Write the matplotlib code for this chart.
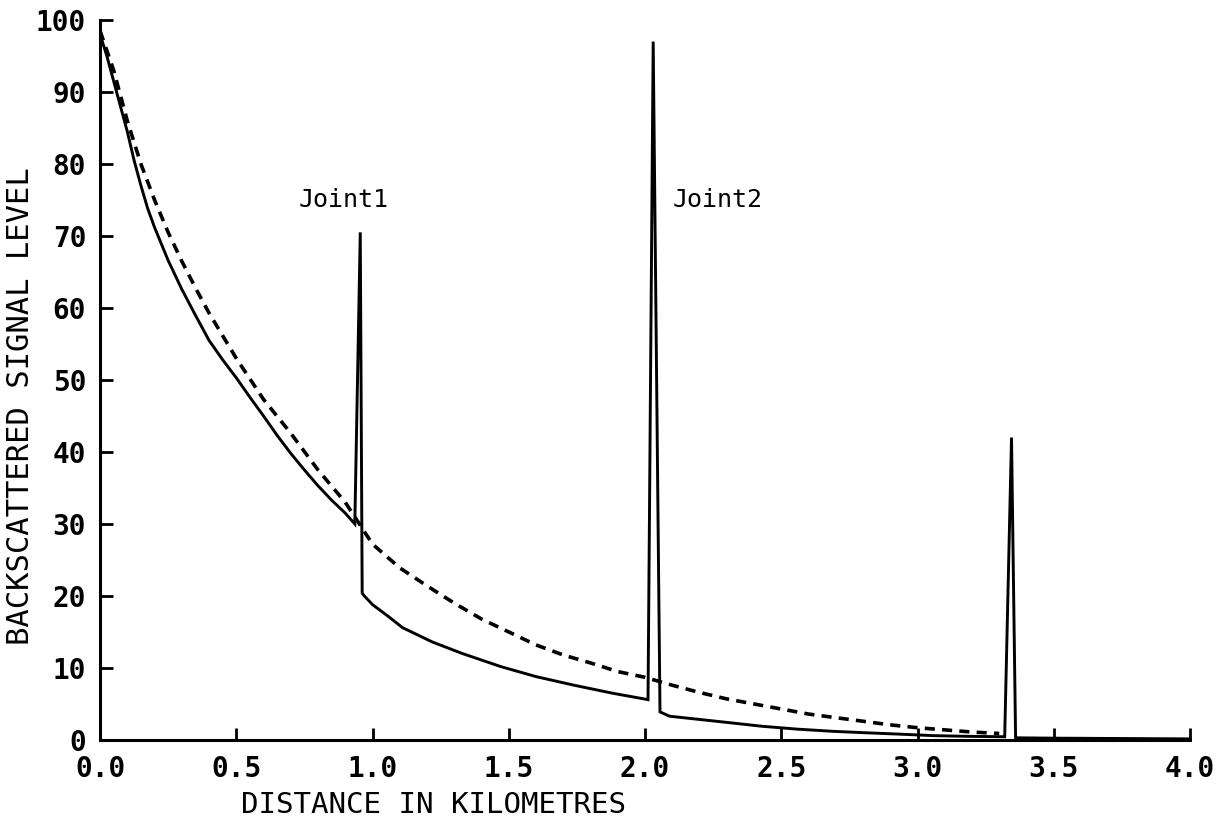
import matplotlib
matplotlib.use("Agg")
import matplotlib.pyplot as plt

# Measured backscatter trace along the fibre, with the reflections at the joints
trace_km = [0.0, 0.025, 0.05, 0.075, 0.10, 0.125, 0.15, 0.175, 0.20, 0.25, 0.30,
            0.35, 0.40, 0.45, 0.50, 0.55, 0.60, 0.65, 0.70, 0.75, 0.80, 0.85, 0.90,
            0.935, 0.955, 0.962, 0.97, 1.00, 1.06, 1.11, 1.22, 1.33, 1.47, 1.60,
            1.74, 1.88, 2.011, 2.03, 2.055, 2.09, 2.20, 2.31, 2.43, 2.56, 2.69,
            2.81, 2.94, 3.06, 3.19, 3.32, 3.345, 3.36, 3.50, 3.75, 4.0]
trace_level = [98.0, 95.0, 91.5, 88.0, 84.5, 80.5, 77.0, 73.8, 71.2, 66.6, 62.6,
               59.0, 55.5, 52.8, 50.3, 47.6, 45.0, 42.3, 39.8, 37.5, 35.3, 33.3, 31.5,
               30.0, 70.5, 20.4, 20.0, 18.8, 17.1, 15.6, 13.6, 12.0, 10.2, 8.8,
               7.6, 6.5, 5.6, 97.0, 3.9, 3.3, 2.85, 2.4, 1.9, 1.5, 1.2,
               1.0, 0.8, 0.6, 0.5, 0.45, 42.0, 0.3, 0.25, 0.2, 0.15]

# Loss-free reference decay (dashed)
ref_km = [0.0, 0.05, 0.10, 0.15, 0.20, 0.25, 0.30, 0.35, 0.40, 0.50, 0.60, 0.70,
          0.80, 0.90, 1.00, 1.10, 1.20, 1.30, 1.40, 1.50, 1.60, 1.70, 1.80, 1.90,
          2.00, 2.10, 2.20, 2.30, 2.40, 2.50, 2.60, 2.70, 2.80, 2.90, 3.00, 3.10,
          3.20, 3.30]
ref_level = [98.5, 93.0, 86.0, 80.0, 75.0, 70.5, 66.5, 62.8, 59.3, 53.0, 47.3, 42.6,
             37.5, 33.0, 27.2, 23.9, 21.4, 19.0, 16.8, 15.0, 13.2, 11.8, 10.7, 9.5,
             8.7, 7.6, 6.6, 5.7, 5.0, 4.3, 3.6, 3.1, 2.6, 2.1, 1.7, 1.4,
             1.1, 0.9]

x_ticks = [0.0, 0.5, 1.0, 1.5, 2.0, 2.5, 3.0, 3.5, 4.0]
y_ticks = [0, 10, 20, 30, 40, 50, 60, 70, 80, 90, 100]
joint_names = ["Joint1", "Joint2"]

FONT = "DejaVu Sans Mono"

fig = plt.figure(figsize=(12.32, 8.21), dpi=100)
ax = fig.add_axes([0.0812, 0.0987, 0.8847, 0.877])

ax.plot(trace_km, trace_level, color="black", lw=2.1, solid_joinstyle="miter")
ax.plot(ref_km, ref_level, color="black", lw=2.6, linestyle=(0, (2.8, 2.0)))

ax.text(0.73, 75, joint_names[0], family=FONT, fontsize=18, va="center", ha="left")
ax.text(2.10, 75, joint_names[1], family=FONT, fontsize=18, va="center", ha="left")

ax.set_xlim(0, 4.0)
ax.set_ylim(0, 100)
ax.set_xticks(x_ticks)
ax.set_xticklabels([f"{v:.1f}" for v in x_ticks])
ax.set_yticks(y_ticks)
ax.set_yticklabels([str(v) for v in y_ticks])

for lab in ax.get_xticklabels() + ax.get_yticklabels():
    lab.set_family(FONT)
    lab.set_fontsize(20)
    lab.set_fontweight("bold")

ax.tick_params(axis="both", direction="in", length=9, width=2.0, color="black")
ax.tick_params(axis="x", pad=11)
ax.tick_params(axis="y", pad=10)

for side in ("top", "right"):
    ax.spines[side].set_visible(False)
for side in ("left", "bottom"):
    ax.spines[side].set_linewidth(2.2)

ax.set_xlabel("DISTANCE IN KILOMETRES", family=FONT, fontsize=21)
ax.set_ylabel("BACKSCATTERED SIGNAL LEVEL", family=FONT, fontsize=22)
ax.xaxis.set_label_coords(0.306, -0.071)
ax.yaxis.set_label_coords(-0.060, 0.464)

fig.savefig("out.png", dpi=100)
